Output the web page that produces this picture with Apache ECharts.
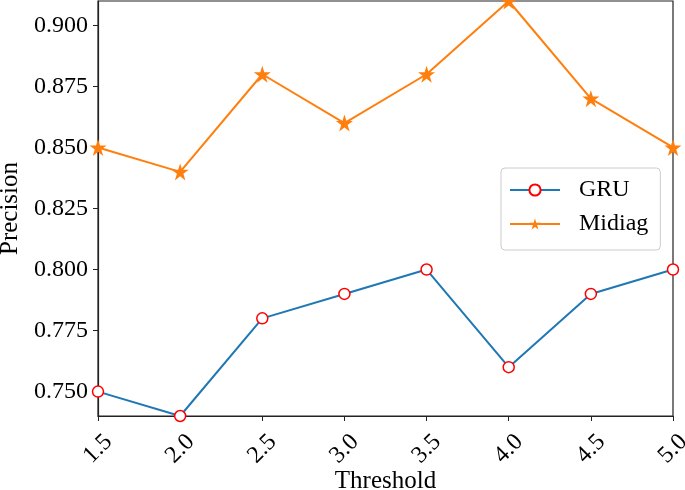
<!DOCTYPE html>
<html><head><meta charset="utf-8">
<script src="https://cdn.jsdelivr.net/npm/echarts@6/dist/echarts.min.js"></script>
<style>html,body{margin:0;padding:0;background:#fff}#c{width:685px;height:490px}</style>
</head><body><div id="c"></div>
<script>
const thresholds = [1.5, 2.0, 2.5, 3.0, 3.5, 4.0, 4.5, 5.0];
const gru = [0.75, 0.74, 0.78, 0.79, 0.80, 0.76, 0.79, 0.80];
const midiag = [0.85, 0.84, 0.88, 0.86, 0.88, 0.91, 0.87, 0.85];
const yTicks = [0.750, 0.775, 0.800, 0.825, 0.850, 0.875, 0.900];
const xTicks = [1.5, 2.0, 2.5, 3.0, 3.5, 4.0, 4.5, 5.0];

const font = 'Liberation Serif';
const star = 'path://M50,0 L61.8,36 L100,36 L69,58.5 L80.9,95 L50,72.5 L19.1,95 L31,58.5 L0,36 L38.2,36 Z';
const chart = echarts.init(document.getElementById('c'));
chart.setOption({
  animation: false,
  backgroundColor: '#fff',
  grid: {left: 98, right: 12, top: 1, bottom: 74, outerBoundsMode: 'none', containLabel: false,
    show: true, borderColor: '#222', borderWidth: 1.2},
  legend: {
    orient: 'vertical', left: 501, top: 168, width: 161,
    padding: [10, 12, 14, 8], itemGap: 10, itemWidth: 50, itemHeight: 14,
    borderColor: '#ccc', borderWidth: 1, borderRadius: 4,
    textStyle: {fontFamily: font, fontSize: 24, color: '#000', padding: [0, 0, 0, 14]},
    data: ['GRU', 'Midiag']
  },
  xAxis: {
    type: 'value', min: 1.5, max: 5.0, interval: 0.5,
    name: 'Threshold', nameLocation: 'middle', nameGap: 65, nameMoveOverlap: false,
    nameTextStyle: {fontFamily: font, fontSize: 25, color: '#000', verticalAlign: 'middle'},
    axisLine: {show: true, lineStyle: {color: '#222', width: 1.2}},
    axisTick: {show: true, length: 5, lineStyle: {color: '#222'}, customValues: xTicks},
    axisLabel: {fontFamily: font, fontSize: 24, color: '#000', rotate: 45, align: 'center', verticalAlign: 'middle', margin: 33,
      customValues: xTicks, formatter: v => v.toFixed(1)},
    splitLine: {show: false}
  },
  yAxis: {
    type: 'value', min: 0.74, max: 0.91,
    name: 'Precision', nameLocation: 'middle', nameGap: 87,
    nameTextStyle: {fontFamily: font, fontSize: 25, color: '#000', verticalAlign: 'middle'},
    axisLine: {show: true, lineStyle: {color: '#222', width: 1.2}},
    axisTick: {show: true, length: 5, lineStyle: {color: '#222'}, customValues: yTicks},
    axisLabel: {fontFamily: font, fontSize: 24, color: '#000', margin: 10,
      customValues: yTicks, formatter: v => v.toFixed(3)},
    splitLine: {show: false}
  },
  series: [
    {name: 'GRU', type: 'line', data: thresholds.map((t, i) => [t, gru[i]]),
     symbol: 'circle', symbolSize: 11, clip: false,
     lineStyle: {color: '#1f77b4', width: 2},
     itemStyle: {color: '#fff', borderColor: '#ff0000', borderWidth: 1.5}},
    {name: 'Midiag', type: 'line', data: thresholds.map((t, i) => [t, midiag[i]]),
     symbol: star, symbolSize: 17, clip: false,
     lineStyle: {color: '#ff7f0e', width: 2},
     itemStyle: {color: '#ff7f0e'}}
  ]
});
</script></body></html>
